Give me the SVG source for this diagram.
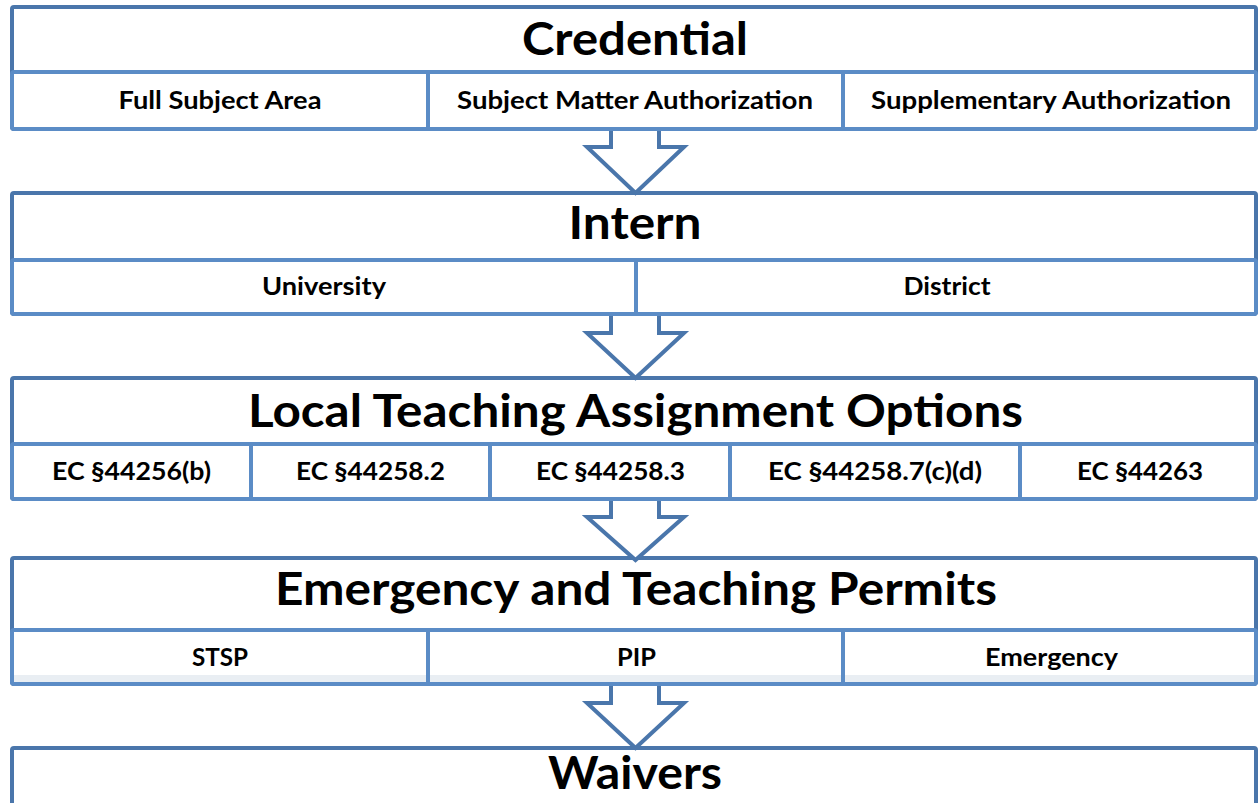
<svg xmlns="http://www.w3.org/2000/svg" width="1258" height="803" viewBox="0 0 1258 803">
  <style>
    .frame { fill: #ffffff; stroke: #4a76ab; stroke-width: 4; }
    .cell { fill: #ffffff; stroke: #5b8cc6; stroke-width: 4; }
    .div { stroke: #5b8cc6; stroke-width: 4; }
    .title { font-family: Lato, "Liberation Sans", sans-serif; font-weight: 700; font-size: 46px; fill: #000000; text-anchor: middle; }
    .sub { font-family: Lato, "Liberation Sans", sans-serif; font-weight: 700; font-size: 25px; fill: #000000; text-anchor: middle; }
    .arrow { fill: #ffffff; stroke: #4a76ab; stroke-width: 4; stroke-linejoin: miter; }
    .band { fill: #e9eef3; }
  </style>
  <rect width="1258" height="803" fill="#ffffff"/>

  <g id="credential">
    <rect class="frame" x="12" y="7" width="1244" height="122" rx="2"/>
    <rect class="cell" x="12" y="72" width="1244" height="57" rx="2"/>
    <line class="div" x1="428" y1="72" x2="428" y2="129"/>
    <line class="div" x1="843" y1="72" x2="843" y2="129"/>
    <text class="title" x="635" y="55" textLength="226" lengthAdjust="spacingAndGlyphs">Credential</text>
    <text class="sub" x="220" y="109" textLength="203" lengthAdjust="spacingAndGlyphs">Full Subject Area</text>
    <text class="sub" x="635" y="109" textLength="356" lengthAdjust="spacingAndGlyphs">Subject Matter Authorization</text>
    <text class="sub" x="1051" y="109" textLength="360" lengthAdjust="spacingAndGlyphs">Supplementary Authorization</text>
  </g>

  <g id="intern">
    <rect class="frame" x="12" y="193" width="1244" height="121" rx="2"/>
    <rect class="cell" x="12" y="260" width="1244" height="54" rx="2"/>
    <line class="div" x1="636" y1="260" x2="636" y2="314"/>
    <text class="title" x="635" y="239" textLength="133" lengthAdjust="spacingAndGlyphs">Intern</text>
    <text class="sub" x="324" y="295" textLength="124" lengthAdjust="spacingAndGlyphs">University</text>
    <text class="sub" x="947" y="295" textLength="87" lengthAdjust="spacingAndGlyphs">District</text>
  </g>

  <g id="local-teaching-assignment-options">
    <rect class="frame" x="12" y="378" width="1244" height="121" rx="2"/>
    <rect class="cell" x="12" y="444" width="1244" height="55" rx="2"/>
    <line class="div" x1="251" y1="444" x2="251" y2="499"/>
    <line class="div" x1="490" y1="444" x2="490" y2="499"/>
    <line class="div" x1="730" y1="444" x2="730" y2="499"/>
    <line class="div" x1="1020" y1="444" x2="1020" y2="499"/>
    <text class="title" x="635.5" y="427" textLength="775" lengthAdjust="spacingAndGlyphs">Local Teaching Assignment Options</text>
    <text class="sub" x="131.5" y="480" textLength="159" lengthAdjust="spacingAndGlyphs">EC §44256(b)</text>
    <text class="sub" x="370.5" y="480" textLength="149" lengthAdjust="spacingAndGlyphs">EC §44258.2</text>
    <text class="sub" x="610.5" y="480" textLength="149" lengthAdjust="spacingAndGlyphs">EC §44258.3</text>
    <text class="sub" x="875" y="480" textLength="214" lengthAdjust="spacingAndGlyphs">EC §44258.7(c)(d)</text>
    <text class="sub" x="1140" y="480" textLength="126" lengthAdjust="spacingAndGlyphs">EC §44263</text>
  </g>

  <g id="emergency-and-teaching-permits">
    <rect class="frame" x="12" y="558" width="1244" height="126" rx="2"/>
    <rect class="cell" x="12" y="630" width="1244" height="54" rx="2"/>
    <rect class="band" x="14" y="675" width="1240" height="7"/>
    <line class="div" x1="428" y1="630" x2="428" y2="684"/>
    <line class="div" x1="843" y1="630" x2="843" y2="684"/>
    <text class="title" x="636" y="605" textLength="722" lengthAdjust="spacingAndGlyphs">Emergency and Teaching Permits</text>
    <text class="sub" x="220" y="666" textLength="56" lengthAdjust="spacingAndGlyphs">STSP</text>
    <text class="sub" x="636.5" y="666" textLength="39" lengthAdjust="spacingAndGlyphs">PIP</text>
    <text class="sub" x="1051.5" y="666" textLength="133" lengthAdjust="spacingAndGlyphs">Emergency</text>
  </g>

  <g id="waivers">
    <rect class="frame" x="12" y="748" width="1244" height="70" rx="2"/>
    <text class="title" x="635" y="789" textLength="174" lengthAdjust="spacingAndGlyphs">Waivers</text>
  </g>

  <g id="connectors">
    <path class="arrow" d="M611,131 V147 H587 L635.5,193 L684,147 H659 V131"/>
    <path class="arrow" d="M611,316 V333 H587 L635.5,378 L684,333 H659 V316"/>
    <path class="arrow" d="M611,501 V517 H587 L635.5,560 L684,517 H659 V501"/>
    <path class="arrow" d="M611,686 V703 H587 L635.5,748 L684,703 H659 V686"/>
  </g>
</svg>
